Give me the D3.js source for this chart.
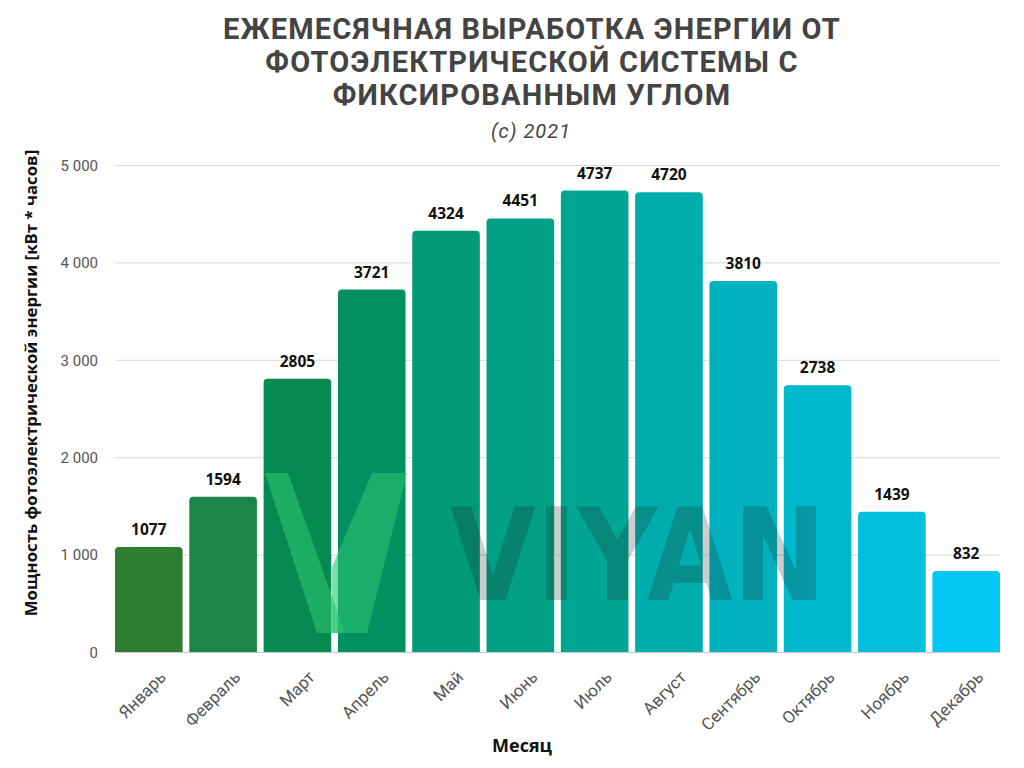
<!DOCTYPE html>
<html>
<head>
<meta charset="utf-8">
<script src="https://cdn.jsdelivr.net/npm/d3@7"></script>
<style>
  body { margin: 0; background: #fff; }
  svg { display: block; }
  .tick text { font-family: Roboto, sans-serif; fill: #555; }
</style>
</head>
<body>
<svg id="chart" width="1024" height="768"></svg>
<script>
const months = ['Январь', 'Февраль', 'Март', 'Апрель', 'Май', 'Июнь', 'Июль', 'Август', 'Сентябрь', 'Октябрь', 'Ноябрь', 'Декабрь'];
const energy = [1077, 1594, 2805, 3721, 4324, 4451, 4737, 4720, 3810, 2738, 1439, 832];
const yTicks = [0, 1000, 2000, 3000, 4000, 5000];
const barColors = ['#2e7d32', '#1f8449', '#078a52', '#029062', '#009a78', '#009f86', '#00a594', '#00adac', '#00b2bd', '#00b8cb', '#00bfdd', '#00c8f2'];
const titleLines = ['ЕЖЕМЕСЯЧНАЯ ВЫРАБОТКА ЭНЕРГИИ ОТ', 'ФОТОЭЛЕКТРИЧЕСКОЙ СИСТЕМЫ С', 'ФИКСИРОВАННЫМ УГЛОМ'];

const svg = d3.select('#chart');
const plotLeft = 115, plotRight = 1000, plotTop = 165, plotBottom = 652;

const x = d3.scaleBand()
    .domain(months)
    .range([plotLeft, plotRight])
    .paddingInner(0.09)
    .paddingOuter(0);

const y = d3.scaleLinear()
    .domain([0, 5000])
    .range([plotBottom, plotTop]);

const fmt = v => d3.format(',')(v).replace(/,/g, ' ');

// grid
svg.append('g')
    .attr('transform', `translate(${plotLeft},0)`)
    .call(d3.axisLeft(y).tickValues(yTicks).tickSize(-(plotRight - plotLeft)).tickFormat(''))
    .call(g => g.select('.domain').remove())
    .call(g => g.selectAll('line').attr('stroke', '#d9d9d9'));

// y tick labels
svg.append('g')
    .attr('transform', `translate(${plotLeft - 14},0)`)
    .call(d3.axisLeft(y).tickValues(yTicks).tickSize(0).tickFormat(fmt))
    .call(g => g.select('.domain').remove())
    .call(g => g.selectAll('text').attr('font-size', 15).attr('dy', '0.35em'));

// bars with rounded tops
const r = 4;
const barPath = (d, i) => {
    const x0 = x(months[i]), w = x.bandwidth(), y0 = y(d), y1 = y(0);
    return `M${x0},${y1}V${y0 + r}Q${x0},${y0} ${x0 + r},${y0}H${x0 + w - r}Q${x0 + w},${y0} ${x0 + w},${y0 + r}V${y1}Z`;
};

svg.append('g').selectAll('path')
    .data(energy)
    .join('path')
    .attr('d', barPath)
    .attr('fill', (d, i) => barColors[i]);

// baseline
svg.append('line')
    .attr('x1', plotLeft).attr('x2', plotRight)
    .attr('y1', y(0) + 0.5).attr('y2', y(0) + 0.5)
    .attr('stroke', '#c8c8c8');

// value labels
svg.append('g').selectAll('text')
    .data(energy)
    .join('text')
    .attr('x', (d, i) => x(months[i]) + x.bandwidth() / 2)
    .attr('y', d => y(d) - 12)
    .attr('text-anchor', 'middle')
    .attr('font-family', '"Open Sans", sans-serif')
    .attr('font-weight', 'bold')
    .attr('font-size', 15.5)
    .attr('fill', '#111')
    .text(d => d);

// x labels
svg.append('g')
    .attr('transform', `translate(0,${plotBottom + 12})`)
    .call(d3.axisBottom(x).tickSize(0))
    .call(g => g.select('.domain').remove())
    .call(g => g.selectAll('text')
        .attr('font-family', '"Open Sans", sans-serif')
        .attr('font-size', 17)
        .attr('text-anchor', 'end')
        .attr('dy', '0.35em')
        .attr('transform', 'translate(12,8) rotate(-45)'));

// watermark
const wm = svg.append('g').attr('pointer-events', 'none');
wm.append('path')
    .attr('d', 'M265,473H288L345,633H317Z')
    .attr('fill', '#2cc46e').attr('opacity', 0.6);
wm.append('path')
    .attr('d', 'M372,473H407L367,633H332V567Z')
    .attr('fill', '#2cc46e').attr('opacity', 0.6);
const mark = wm.append('text')
    .attr('font-family', '"DejaVu Sans", sans-serif')
    .attr('font-weight', 'bold')
    .attr('font-size', 128)
    .attr('fill', '#202020')
    .attr('opacity', 0.22)
    .text('VIYAN');
const markW = mark.node().getComputedTextLength();
mark.attr('transform', `translate(450,600) scale(${376 / markW},1)`);

// titles
svg.append('g').selectAll('text')
    .data(titleLines)
    .join('text')
    .attr('x', 532)
    .attr('y', (d, i) => 39 + i * 33)
    .attr('text-anchor', 'middle')
    .attr('font-family', 'Roboto, sans-serif')
    .attr('font-weight', 'bold')
    .attr('font-size', 29)
    .attr('letter-spacing', 1.2)
    .attr('fill', '#444')
    .text(d => d);

svg.append('text')
    .attr('x', 531).attr('y', 138)
    .attr('text-anchor', 'middle')
    .attr('font-family', 'Roboto, sans-serif')
    .attr('font-style', 'italic')
    .attr('font-size', 20)
    .attr('letter-spacing', 1)
    .attr('fill', '#444')
    .text('(c) 2021');

svg.append('text')
    .attr('transform', 'translate(37,383) rotate(-90)')
    .attr('text-anchor', 'middle')
    .attr('font-family', '"Open Sans", sans-serif')
    .attr('font-weight', 'bold')
    .attr('font-size', 16.8)
    .attr('fill', '#111')
    .text('Мощность фотоэлектрической энергии [кВт * часов]');

svg.append('text')
    .attr('x', 522).attr('y', 752)
    .attr('text-anchor', 'middle')
    .attr('font-family', '"Open Sans", sans-serif')
    .attr('font-weight', 'bold')
    .attr('font-size', 18)
    .attr('fill', '#111')
    .text('Месяц');
</script>
</body>
</html>
